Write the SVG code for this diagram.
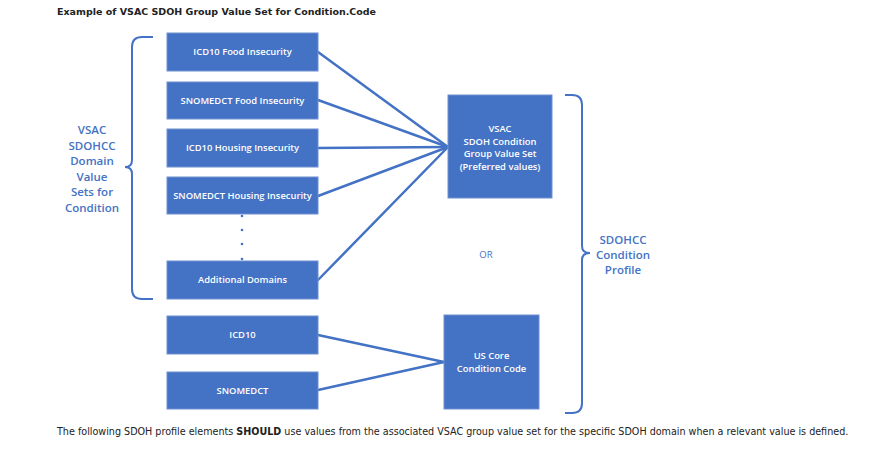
<svg xmlns="http://www.w3.org/2000/svg" width="893" height="454" viewBox="0 0 893 454">
<style>
.box{fill:#4472C4;stroke:#6f8fd0;stroke-width:1}
.bt{fill:#fff;font-family:"Open Sans","Noto Sans",sans-serif;font-weight:600;font-size:9.4px;text-anchor:middle}
.lbl{fill:#4472C4;font-family:"Open Sans","Noto Sans",sans-serif;font-weight:600;font-size:11.5px;text-anchor:middle}
.con{stroke:#4472C4;stroke-width:2.5;fill:none;stroke-linecap:round}
.brace{stroke:#4472C4;stroke-width:2;fill:none}
.dot{fill:#4472C4}
</style>
<rect width="893" height="454" fill="#fff"/>
<text x="57" y="15" font-family="DejaVu Sans, Verdana, sans-serif" font-weight="bold" font-size="9.5" fill="#222">Example of VSAC SDOH Group Value Set for Condition.Code</text>
<g id="connectors">
<line class="con" x1="318" y1="52" x2="448" y2="147"/>
<line class="con" x1="318" y1="100" x2="448" y2="147"/>
<line class="con" x1="318" y1="148" x2="448" y2="147"/>
<line class="con" x1="318" y1="196" x2="448" y2="147"/>
<line class="con" x1="318" y1="280" x2="448" y2="147"/>
<line class="con" x1="318" y1="335" x2="444" y2="362"/>
<line class="con" x1="318" y1="390" x2="444" y2="362"/>
</g>
<g id="brace-left">
<path class="brace" d="M153,37 H142 Q132,37 132,47 V160 Q132,167 125,167 Q132,167 132,174 V289 Q132,299 142,299 H153"/>
<g class="lbl"><text x="92" y="134">VSAC</text><text x="92" y="149.5">SDOHCC</text><text x="92" y="165">Domain</text><text x="92" y="180.5">Value</text><text x="92" y="196">Sets for</text><text x="92" y="211.5">Condition</text></g>
</g>
<g id="n1"><rect class="box" x="167" y="33" width="151" height="38"/><text class="bt" x="242.5" y="55">ICD10 Food Insecurity</text></g>
<g id="n2"><rect class="box" x="167" y="82" width="151" height="37"/><text class="bt" x="242.5" y="103.5">SNOMEDCT Food Insecurity</text></g>
<g id="n3"><rect class="box" x="167" y="129" width="151" height="38"/><text class="bt" x="242.5" y="151">ICD10 Housing Insecurity</text></g>
<g id="n4"><rect class="box" x="167" y="177" width="151" height="37"/><text class="bt" x="242.5" y="198.5">SNOMEDCT Housing Insecurity</text></g>
<g id="dots"><circle class="dot" cx="242" cy="216" r="1.3"/><circle class="dot" cx="242" cy="230" r="1.3"/><circle class="dot" cx="242" cy="244" r="1.3"/><circle class="dot" cx="242" cy="259" r="1.3"/></g>
<g id="n5"><rect class="box" x="167" y="261" width="151" height="38"/><text class="bt" x="242.5" y="283">Additional Domains</text></g>
<g id="n6"><rect class="box" x="167" y="316" width="151" height="38"/><text class="bt" x="242.5" y="338">ICD10</text></g>
<g id="n7"><rect class="box" x="167" y="372" width="151" height="37"/><text class="bt" x="242.5" y="393.5">SNOMEDCT</text></g>
<g id="vsac"><rect class="box" x="448" y="95" width="104" height="103"/><g class="bt"><text x="500" y="132">VSAC</text><text x="500" y="144.5">SDOH Condition</text><text x="500" y="157">Group Value Set</text><text x="500" y="169.5">(Preferred values)</text></g></g>
<g id="or"><text x="486" y="258" font-family="Open Sans, Noto Sans, sans-serif" font-size="9.5" fill="#4472C4" text-anchor="middle">OR</text></g>
<g id="uscore"><rect class="box" x="444" y="315" width="95" height="94"/><g class="bt"><text x="491.5" y="359">US Core</text><text x="491.5" y="372">Condition Code</text></g></g>
<g id="brace-right">
<path class="brace" d="M565,95 H572 Q582,95 582,105 V246 Q582,253 590,253 Q582,253 582,260 V403 Q582,413 572,413 H565"/>
<g class="lbl"><text x="623" y="244">SDOHCC</text><text x="623" y="259">Condition</text><text x="623" y="274">Profile</text></g>
</g>
<text x="57" y="435" font-family="DejaVu Sans, Verdana, sans-serif" font-size="9.6" fill="#222">The following SDOH profile elements <tspan font-weight="bold">SHOULD</tspan> use values from the associated VSAC group value set for the specific SDOH domain when a relevant value is defined.</text>
</svg>
